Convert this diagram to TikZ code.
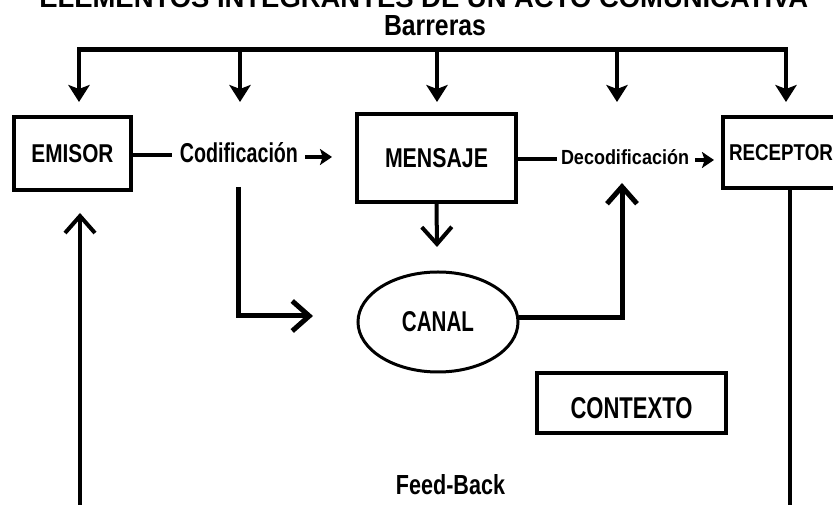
\documentclass[tikz,border=0pt]{standalone}
\usepackage{fontspec}
\setmainfont{Liberation Sans}
\usepackage{graphicx}
\usetikzlibrary{arrows.meta,shapes.geometric}
\newdimen\pxu \pxu=0.75pt
\newcommand\fitt[3]{\resizebox{#1\pxu}{#2\pxu}{\bfseries #3}}
\begin{document}
\begin{tikzpicture}[x=0.75pt,y=-0.75pt,
  box/.style={draw, line width=3pt, rectangle, inner sep=0pt},
  txt/.style={inner sep=0pt},
  shaft/.style={line width=3pt},
  heavyline/.style={line width=3.75pt},
  barb/.style={-{Straight Barb[length=12.75pt,width=22.5pt]}},
  chev/.style={-{Stealth[length=12.75pt,width=16pt,inset=3pt]}},
  smallchev/.style={-{Stealth[length=9pt,width=12pt,inset=2pt]}}
]
\useasboundingbox (0,0) rectangle (833,505);
\clip (0,0) rectangle (833,505);

% title and labels
\node[txt, anchor=base west] (title) at (39,8) {\resizebox{769\pxu}{!}{\bfseries ELEMENTOS INTEGRANTES DE UN ACTO COMUNICATIVA}};
\node[txt] (barreras) at (435,26) {\fitt{102}{20}{Barreras}};

% main nodes
\node[box, minimum width=87.75pt, minimum height=54.75pt] (emisor) at (72.5,153.5) {\fitt{82}{18}{EMISOR}};
\node[txt] (cod) at (239,153) {\fitt{118}{20}{Codificación}};
\node[box, minimum width=119.25pt, minimum height=66pt] (mensaje) at (436.5,158) {\fitt{103}{19}{MENSAJE}};
\node[txt] (dec) at (625,157.5) {\fitt{128}{15}{Decodificación}};
\node[box, minimum width=87pt, minimum height=53.25pt] (receptor) at (781,152.5) {\fitt{104}{16}{RECEPTOR}};
\node[draw, ellipse, line width=2.25pt, minimum width=120pt, minimum height=75pt, inner sep=0pt] (canal) at (438,322) {\fitt{72}{20}{CANAL}};
\node[box, minimum width=141.75pt, minimum height=45pt, text height=24pt] (contexto) at (631.5,403) {\fitt{122}{21}{CONTEXTO}\hspace{14.25pt}};
\node[txt] (fb) at (450.5,485) {\fitt{109}{20}{Feed-Back}};

% barreras bar
\coordinate (barL) at (77,50);
\coordinate (barR) at (788,50);
\draw[line width=3.75pt] (barL) -- (barR);
\foreach \i/\x in {1/79,2/240,3/437,4/617,5/786}{
  \coordinate (b\i) at (\x,50);
  \coordinate (t\i) at (\x,102);
  \draw[shaft, chev] (b\i) -- (t\i);
}

% codificacion
\coordinate (codL) at (172,155);
\coordinate (codR) at (305,157);
\coordinate (codTip) at (332,157);
\draw[shaft] (emisor.east |- codL) -- (codL);
\draw[shaft, smallchev] (codR) -- (codTip);

% decodificacion
\coordinate (decL) at (557,159);
\coordinate (decR) at (695,160);
\coordinate (decTip) at (714,160);
\draw[shaft] (mensaje.east |- decL) -- (decL);
\draw[shaft, smallchev] (decR) -- (decTip);

% mensaje -> canal
\coordinate (mesTip) at (437,247);
\draw[shaft, barb] (mensaje.south) -- (mesTip);

% codificacion -> canal
\coordinate (codDown) at (238,187);
\coordinate (canTip) at (313,316);
\draw[heavyline, barb] (codDown) |- (canTip);

% canal -> decodificacion
\coordinate (decUp) at (622,183);
\draw[heavyline, barb] (canal.3) -| (decUp);

% feed-back
\coordinate (fbL) at (80,510);
\coordinate (emTip) at (80,213);
\draw[shaft, barb] (fbL) -- (emTip);
\coordinate (fbR) at (790,510);
\draw[shaft] (receptor.south -| fbR) -- (fbR);
\end{tikzpicture}
\end{document}
